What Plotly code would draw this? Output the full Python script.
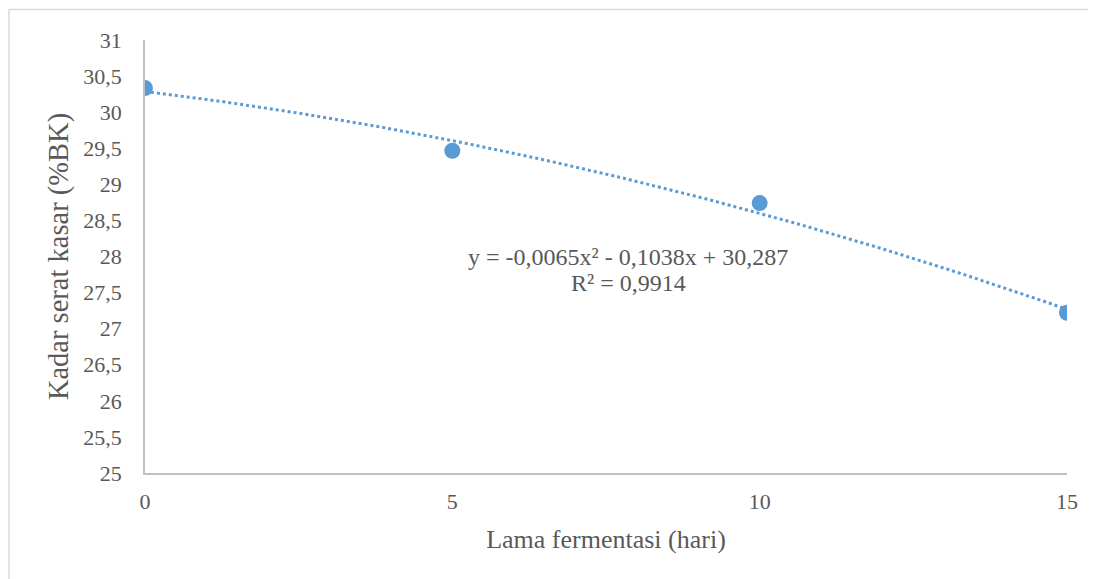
import numpy as np
import plotly.graph_objects as go

# Data
lama_hari = [0, 5, 10, 15]
kadar_serat = [30.334, 29.465, 28.74, 27.221]
y_ticks = [25, 25.5, 26, 26.5, 27, 27.5, 28, 28.5, 29, 29.5, 30, 30.5, 31]
y_tick_labels = ["25", "25,5", "26", "26,5", "27", "27,5", "28", "28,5", "29", "29,5", "30", "30,5", "31"]
x_ticks = [0, 5, 10, 15]
x_tick_labels = ["0", "5", "10", "15"]
equation_line = "y = -0,0065x² - 0,1038x + 30,287"
r2_line = "R² = 0,9914"

# Polynomial trendline (order 2) fitted to the data, as in the source chart
coef = np.polyfit(lama_hari, kadar_serat, 2)
xt = np.linspace(min(lama_hari), max(lama_hari), 200)
yt = np.polyval(coef, xt)

blue = "#5B9BD5"
grey = "#595959"
font_family = "Liberation Serif, Times New Roman, serif"

fig = go.Figure()
fig.add_trace(go.Scatter(x=xt, y=yt, mode="lines",
                         line=dict(color=blue, width=3, dash="dot"),
                         hoverinfo="skip", showlegend=False))
fig.add_trace(go.Scatter(x=lama_hari, y=kadar_serat, mode="markers",
                         marker=dict(color=blue, size=16),
                         showlegend=False))

# page offset (body margin) of 8px
OFF = 8
W, H = 1088, 571
PL, PR, PT, PB = 145, 1067, 40, 473   # plot area in page pixels
L, T = PL - OFF, PT - OFF
R = W - (PR - OFF)
B = H - (PB - OFF)
pw, ph = PR - PL, PB - PT

def px_x(px):
    return (px - PL) / pw

def px_y(py):
    return (PB - py) / ph

fig.add_shape(type="rect", xref="paper", yref="paper",
              x0=px_x(9), x1=px_x(1120),
              y0=px_y(620), y1=px_y(9.5),
              line=dict(color="#D9D9D9", width=1.5), layer="below")

fig.add_annotation(x=px_x(628), y=px_y(257), xref="paper", yref="paper",
                   text=equation_line, showarrow=False,
                   font=dict(family=font_family, size=24, color=grey))
fig.add_annotation(x=px_x(628), y=px_y(283), xref="paper", yref="paper",
                   text=r2_line, showarrow=False,
                   font=dict(family=font_family, size=24, color=grey))

fig.update_layout(
    width=W, height=H,
    margin=dict(l=L, r=R, t=T, b=B),
    paper_bgcolor="white", plot_bgcolor="white",
    font=dict(family=font_family, color=grey),
    xaxis=dict(range=[0, 15], tickvals=x_ticks, ticktext=x_tick_labels,
               showgrid=False, zeroline=False, showline=True,
               linecolor="#BFBFBF", linewidth=1.5,
               ticks="", tickfont=dict(size=22, color=grey),
               ticklabelstandoff=8,
               title=dict(text="Lama fermentasi (hari)", standoff=17,
                          font=dict(size=26, color=grey))),
    yaxis=dict(range=[25, 31], tickvals=y_ticks, ticktext=y_tick_labels,
               showgrid=False, zeroline=False, showline=True,
               linecolor="#BFBFBF", linewidth=1.5,
               ticks="", tickfont=dict(size=22, color=grey),
               ticklabelstandoff=17,
               title=dict(text="Kadar serat kasar (%BK)", standoff=6,
                          font=dict(size=28.5, color=grey))),
)

fig.write_html("out.html")
